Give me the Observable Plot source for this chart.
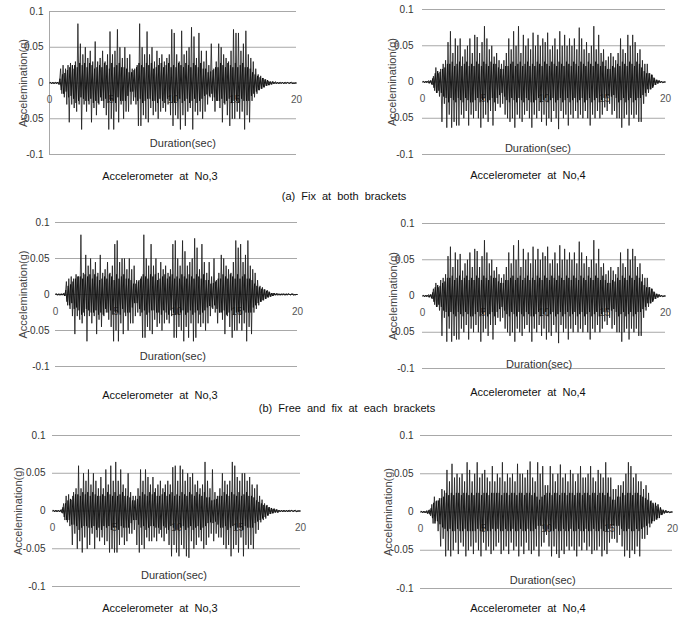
<!DOCTYPE html>
<html><head><meta charset="utf-8">
<script src="https://cdn.jsdelivr.net/npm/d3@7"></script>
<script src="https://cdn.jsdelivr.net/npm/@observablehq/plot@0.6"></script>
<style>
body{margin:0;background:#fff;}
#wrap{position:relative;width:683px;height:619px;overflow:hidden;background:#fff;font-family:"Liberation Sans",Arial,sans-serif;}
.panel{position:absolute;}
.cap{position:absolute;transform:translateX(-50%);font-size:11px;word-spacing:3px;color:#111;white-space:nowrap;line-height:14px;}
</style></head><body><div id="wrap"></div>
<script>
const dt = 0.1; // sampling step of the read-off series (sec)
const yTicks = [-0.1, -0.05, 0, 0.05, 0.1];
const xTicks = [0, 5, 10, 15, 20];
const yLabel = "Accelemination(g)";
const xLabel = "Duration(sec)";
const panelCaptions = ["Accelerometer  at  No,3", "Accelerometer  at  No,4", "Accelerometer  at  No,3", "Accelerometer  at  No,4", "Accelerometer  at  No,3", "Accelerometer  at  No,4"];
const groupCaptions = ["(a)  Fix  at  both  brackets", "(b)  Free  and  fix  at  each  brackets"];

// Peak (spike) readings, one every 0.1 s from 0 to 20 s
// (a) Fix at both brackets — No.3
const accA3 = [
 0,0.001,-0.001,0.001,-0.001,0.001,0,0.001,-0.002,0.02,
 -0.015,0.025,-0.02,0.02,-0.03,0.025,-0.055,0.028,-0.03,0.02,
 -0.035,0.03,-0.04,0.083,-0.03,0.055,-0.065,0.04,-0.03,0.05,
 -0.04,0.035,-0.03,0.045,-0.055,0.03,-0.035,0.058,-0.045,0.03,
 -0.03,0.035,-0.025,0.045,-0.035,0.03,-0.045,0.04,-0.065,0.072,
 -0.05,0.04,-0.065,0.045,-0.04,0.075,-0.055,0.05,-0.03,0.035,
 -0.05,0.05,-0.04,0.035,-0.04,0.04,-0.03,0.02,-0.025,0.02,
 -0.03,0.025,-0.06,0.083,-0.06,0.05,-0.045,0.04,-0.05,0.072,
 -0.055,0.04,-0.035,0.05,-0.045,0.03,-0.04,0.045,-0.05,0.035,
 -0.04,0.04,-0.035,0.03,-0.04,0.035,-0.03,0.04,-0.045,0.075,
 -0.06,0.07,-0.045,0.04,-0.05,0.03,-0.065,0.073,-0.045,0.04,
 -0.06,0.045,-0.04,0.05,-0.035,0.078,-0.065,0.065,-0.04,0.035,
 -0.045,0.07,-0.04,0.045,-0.05,0.03,-0.04,0.045,-0.03,0.025,
 -0.02,0.055,-0.025,0.02,-0.04,0.03,-0.025,0.055,-0.035,0.05,
 -0.055,0.04,-0.03,0.035,-0.045,0.03,-0.06,0.045,-0.05,0.075,
 -0.05,0.07,-0.04,0.07,-0.05,0.045,-0.04,0.055,-0.065,0.073,
 -0.045,0.04,-0.055,0.035,-0.025,0.03,-0.02,0.02,-0.015,0.012,
 -0.01,0.01,-0.008,0.007,-0.006,0.005,-0.004,0.003,-0.003,0.002,
 -0.002,0.002,-0.001,0.002,-0.001,0.001,-0.001,0.001,0,0.001,
 -0.001,0.001,0,0.001,-0.001,0,0.001,0,-0.001,0,
 0];

// (a) Fix at both brackets — No.4
const accA4 = [
 0,0.001,-0.001,0.001,0,0.002,-0.001,0.002,-0.004,0.008,
 -0.012,0.02,-0.015,0.012,-0.02,0.018,-0.055,0.025,-0.03,0.03,
 -0.063,0.055,-0.045,0.07,-0.063,0.04,-0.055,0.06,-0.06,0.05,
 -0.06,0.06,-0.045,0.035,-0.05,0.045,-0.04,0.05,-0.06,0.06,
 -0.045,0.04,-0.05,0.065,-0.04,0.062,-0.05,0.04,-0.063,0.055,
 -0.05,0.077,-0.045,0.06,-0.055,0.045,-0.04,0.05,-0.06,0.035,
 -0.04,0.04,-0.03,0.03,-0.035,0.025,-0.03,0.03,-0.045,0.04,
 -0.05,0.06,-0.055,0.045,-0.05,0.07,-0.063,0.05,-0.045,0.077,
 -0.05,0.04,-0.055,0.065,-0.045,0.05,-0.04,0.06,-0.05,0.045,
 -0.063,0.068,-0.045,0.05,-0.05,0.065,-0.04,0.05,-0.055,0.06,
 -0.045,0.055,-0.06,0.068,-0.05,0.045,-0.055,0.05,-0.04,0.06,
 -0.05,0.045,-0.065,0.07,-0.04,0.05,-0.05,0.065,-0.045,0.05,
 -0.06,0.06,-0.045,0.05,-0.05,0.06,-0.04,0.045,-0.05,0.075,
 -0.045,0.06,-0.05,0.045,-0.04,0.055,-0.05,0.04,-0.06,0.05,
 -0.045,0.077,-0.05,0.045,-0.04,0.065,-0.05,0.04,-0.045,0.045,
 -0.035,0.03,-0.04,0.035,-0.03,0.04,-0.045,0.035,-0.04,0.03,
 -0.05,0.04,-0.05,0.06,-0.063,0.045,-0.05,0.04,-0.045,0.065,
 -0.06,0.05,-0.045,0.065,-0.05,0.055,-0.045,0.04,-0.055,0.045,
 -0.055,0.03,-0.03,0.025,-0.02,0.025,-0.015,0.012,-0.01,0.01,
 -0.006,0.005,-0.004,0.003,-0.002,0.002,-0.001,0.001,-0.001,0,
 0];

// (b) Free and fix at each brackets — No.3
const accB3 = [
 0,0.001,-0.001,0.001,-0.001,0.001,0,0.002,-0.002,0.018,
 -0.015,0.022,-0.02,0.025,-0.03,0.022,-0.055,0.028,-0.03,0.025,
 -0.035,0.083,-0.04,0.03,-0.03,0.055,-0.065,0.04,-0.03,0.05,
 -0.04,0.035,-0.03,0.045,-0.055,0.03,-0.035,0.055,-0.045,0.03,
 -0.03,0.035,-0.025,0.045,-0.035,0.03,-0.045,0.04,-0.065,0.07,
 -0.05,0.075,-0.065,0.045,-0.04,0.05,-0.055,0.05,-0.03,0.035,
 -0.05,0.05,-0.04,0.035,-0.04,0.04,-0.03,0.02,-0.025,0.02,
 -0.03,0.025,-0.06,0.083,-0.06,0.05,-0.045,0.04,-0.05,0.07,
 -0.055,0.04,-0.035,0.05,-0.045,0.03,-0.04,0.045,-0.05,0.035,
 -0.04,0.04,-0.035,0.03,-0.04,0.035,-0.03,0.07,-0.06,0.075,
 -0.06,0.05,-0.045,0.04,-0.05,0.075,-0.065,0.06,-0.045,0.04,
 -0.06,0.045,-0.04,0.05,-0.065,0.078,-0.06,0.065,-0.04,0.035,
 -0.045,0.07,-0.04,0.045,-0.05,0.03,-0.04,0.045,-0.03,0.025,
 -0.02,0.05,-0.025,0.02,-0.04,0.03,-0.025,0.055,-0.035,0.05,
 -0.055,0.04,-0.03,0.035,-0.045,0.03,-0.06,0.045,-0.05,0.075,
 -0.05,0.065,-0.04,0.07,-0.05,0.045,-0.04,0.055,-0.065,0.075,
 -0.045,0.04,-0.055,0.035,-0.025,0.03,-0.02,0.02,-0.015,0.012,
 -0.01,0.01,-0.008,0.007,-0.006,0.006,-0.004,0.003,-0.003,0.002,
 -0.002,0.002,-0.001,0.002,-0.001,0.001,-0.001,0.001,0,0.001,
 -0.001,0.001,0,0.001,-0.001,0,0.001,0,-0.001,0,
 0];

// (b) Free and fix at each brackets — No.4
const accB4 = [
 0,0.001,-0.001,0.001,0,0.002,-0.001,0.002,-0.004,0.01,
 -0.012,0.018,-0.015,0.012,-0.02,0.022,-0.055,0.025,-0.03,0.03,
 -0.063,0.055,-0.045,0.068,-0.063,0.04,-0.055,0.06,-0.06,0.05,
 -0.06,0.058,-0.045,0.035,-0.05,0.045,-0.04,0.05,-0.06,0.06,
 -0.045,0.04,-0.05,0.065,-0.04,0.062,-0.05,0.04,-0.063,0.055,
 -0.05,0.077,-0.045,0.06,-0.055,0.045,-0.04,0.05,-0.06,0.035,
 -0.04,0.04,-0.03,0.03,-0.035,0.025,-0.03,0.03,-0.045,0.04,
 -0.05,0.06,-0.055,0.045,-0.05,0.07,-0.063,0.05,-0.045,0.077,
 -0.05,0.04,-0.055,0.065,-0.045,0.05,-0.04,0.06,-0.05,0.045,
 -0.063,0.068,-0.045,0.05,-0.05,0.065,-0.04,0.05,-0.055,0.06,
 -0.045,0.055,-0.06,0.068,-0.05,0.045,-0.055,0.05,-0.04,0.06,
 -0.05,0.045,-0.065,0.07,-0.04,0.05,-0.05,0.065,-0.045,0.05,
 -0.06,0.06,-0.045,0.05,-0.05,0.06,-0.04,0.045,-0.05,0.075,
 -0.045,0.06,-0.05,0.045,-0.04,0.055,-0.05,0.04,-0.06,0.05,
 -0.045,0.077,-0.05,0.045,-0.04,0.065,-0.05,0.04,-0.045,0.045,
 -0.035,0.03,-0.04,0.035,-0.03,0.04,-0.045,0.035,-0.04,0.03,
 -0.05,0.04,-0.05,0.06,-0.063,0.045,-0.05,0.04,-0.045,0.065,
 -0.06,0.05,-0.045,0.065,-0.05,0.055,-0.045,0.04,-0.055,0.045,
 -0.055,0.03,-0.03,0.025,-0.02,0.025,-0.015,0.012,-0.01,0.01,
 -0.006,0.005,-0.004,0.003,-0.002,0.002,-0.001,0.001,-0.001,0,
 0];

// (c) — No.3
const accC3 = [
 0,0.001,-0.001,0.001,-0.001,0.001,-0.001,0.002,-0.003,0.01,
 -0.012,0.02,-0.015,0.022,-0.02,0.015,-0.045,0.025,-0.03,0.03,
 -0.05,0.06,-0.04,0.03,-0.055,0.05,-0.035,0.04,-0.05,0.055,
 -0.045,0.035,-0.03,0.05,-0.05,0.04,-0.035,0.03,-0.04,0.045,
 -0.035,0.03,-0.045,0.055,-0.04,0.035,-0.055,0.06,-0.05,0.04,
 -0.055,0.065,-0.055,0.04,-0.045,0.055,-0.035,0.035,-0.045,0.03,
 -0.04,0.05,-0.03,0.025,-0.03,0.02,-0.025,0.02,-0.045,0.03,
 -0.055,0.055,-0.045,0.04,-0.05,0.055,-0.035,0.045,-0.04,0.035,
 -0.04,0.045,-0.035,0.03,-0.04,0.035,-0.03,0.04,-0.035,0.03,
 -0.04,0.035,-0.03,0.04,-0.045,0.035,-0.06,0.058,-0.045,0.06,
 -0.055,0.04,-0.06,0.06,-0.045,0.055,-0.05,0.04,-0.06,0.05,
 -0.062,0.045,-0.04,0.05,-0.05,0.035,-0.045,0.04,-0.035,0.03,
 -0.04,0.035,-0.05,0.065,-0.045,0.04,-0.035,0.03,-0.03,0.055,
 -0.04,0.025,-0.03,0.02,-0.035,0.03,-0.035,0.05,-0.045,0.04,
 -0.05,0.035,-0.045,0.04,-0.06,0.065,-0.05,0.06,-0.045,0.045,
 -0.055,0.04,-0.035,0.05,-0.06,0.05,-0.045,0.04,-0.05,0.045,
 -0.045,0.035,-0.05,0.03,-0.03,0.035,-0.025,0.02,-0.015,0.015,
 -0.012,0.01,-0.01,0.008,-0.006,0.005,-0.004,0.003,-0.003,0.003,
 -0.002,0.002,-0.002,0.001,-0.001,0.001,-0.001,0.001,-0.001,0.001,
 -0.001,0.001,0,0.001,-0.001,0,0.001,-0.001,0,0,
 0];

// (c) — No.4
const accC4 = [
 0,0.001,-0.001,0.001,-0.001,0.002,-0.002,0.003,-0.005,0.01,
 -0.015,0.02,-0.012,0.015,-0.025,0.018,-0.045,0.03,-0.035,0.028,
 -0.058,0.055,-0.05,0.04,-0.058,0.063,-0.05,0.045,-0.04,0.05,
 -0.055,0.045,-0.04,0.05,-0.045,0.04,-0.058,0.065,-0.05,0.055,
 -0.045,0.04,-0.055,0.05,-0.04,0.065,-0.05,0.045,-0.058,0.05,
 -0.04,0.055,-0.05,0.045,-0.045,0.04,-0.055,0.06,-0.05,0.04,
 -0.045,0.05,-0.04,0.045,-0.055,0.065,-0.05,0.04,-0.045,0.05,
 -0.055,0.045,-0.04,0.05,-0.05,0.04,-0.045,0.063,-0.058,0.05,
 -0.045,0.05,-0.055,0.045,-0.04,0.055,-0.05,0.066,-0.055,0.045,
 -0.05,0.04,-0.045,0.065,-0.058,0.05,-0.045,0.06,-0.04,0.035,
 -0.03,0.035,-0.045,0.06,-0.058,0.05,-0.045,0.04,-0.055,0.05,
 -0.06,0.062,-0.05,0.045,-0.055,0.05,-0.045,0.04,-0.05,0.055,
 -0.045,0.05,-0.05,0.04,-0.058,0.05,-0.045,0.06,-0.05,0.045,
 -0.04,0.045,-0.05,0.05,-0.045,0.06,-0.055,0.045,-0.05,0.04,
 -0.05,0.055,-0.045,0.05,-0.058,0.045,-0.05,0.065,-0.055,0.045,
 -0.04,0.045,-0.035,0.03,-0.035,0.03,-0.04,0.035,-0.03,0.035,
 -0.045,0.04,-0.058,0.05,-0.05,0.065,-0.06,0.06,-0.05,0.045,
 -0.055,0.05,-0.045,0.04,-0.058,0.04,-0.035,0.03,-0.035,0.035,
 -0.03,0.025,-0.02,0.015,-0.012,0.01,-0.01,0.008,-0.008,0.006,
 -0.004,0.003,-0.003,0.002,-0.001,0.002,-0.001,0.001,-0.001,0,
 0];

// Dense low-amplitude (black band) readings, one every 0.1 s starting at 0.05 s
const core3 = [
 0.001,-0.001,0.001,-0.001,0.001,-0.001,0.001,-0.002,0.006,-0.01,
 0.012,-0.015,0.014,-0.012,0.018,-0.02,0.022,-0.018,0.025,-0.022,
 0.025,-0.028,0.022,-0.025,0.028,-0.02,0.025,-0.022,0.028,-0.025,
 0.022,-0.025,0.028,-0.022,0.025,-0.028,0.02,-0.025,0.022,-0.028,
 0.025,-0.02,0.022,-0.025,0.028,-0.022,0.025,-0.028,0.02,-0.025,
 0.028,-0.025,0.022,-0.028,0.025,-0.02,0.028,-0.025,0.022,-0.025,
 0.022,-0.025,0.02,-0.018,0.015,-0.012,0.015,-0.012,0.018,-0.02,
 0.022,-0.025,0.028,-0.022,0.025,-0.028,0.022,-0.025,0.028,-0.022,
 0.025,-0.022,0.028,-0.025,0.02,-0.025,0.022,-0.028,0.025,-0.022,
 0.028,-0.025,0.022,-0.028,0.025,-0.022,0.028,-0.025,0.022,-0.028,
 0.025,-0.028,0.022,-0.025,0.028,-0.022,0.025,-0.028,0.022,-0.025,
 0.028,-0.022,0.025,-0.028,0.022,-0.025,0.028,-0.022,0.025,-0.028,
 0.022,-0.025,0.028,-0.022,0.02,-0.018,0.02,-0.016,0.015,-0.018,
 0.016,-0.015,0.018,-0.02,0.022,-0.025,0.022,-0.025,0.028,-0.022,
 0.025,-0.028,0.022,-0.025,0.028,-0.022,0.025,-0.028,0.022,-0.025,
 0.028,-0.025,0.022,-0.028,0.025,-0.022,0.028,-0.025,0.022,-0.025,
 0.022,-0.025,0.02,-0.018,0.015,-0.015,0.012,-0.012,0.01,-0.01,
 0.008,-0.008,0.007,-0.006,0.005,-0.004,0.004,-0.003,0.002,-0.002,
 0.002,-0.001,0.001,-0.001,0.001,-0.001,0.001,-0.001,0.001,-0.001,
 0.001,-0.001,0.001,0,0,0.001,-0.001,0,0,0];

const core4 = [
 0.001,-0.001,0.001,-0.001,0.001,-0.002,0.002,-0.003,0.005,-0.008,
 0.012,-0.015,0.015,-0.012,0.014,-0.015,0.018,-0.02,0.02,-0.022,
 0.025,-0.028,0.025,-0.022,0.028,-0.025,0.022,-0.028,0.025,-0.022,
 0.028,-0.025,0.022,-0.028,0.025,-0.022,0.028,-0.025,0.022,-0.028,
 0.025,-0.028,0.022,-0.025,0.028,-0.022,0.025,-0.028,0.022,-0.025,
 0.028,-0.022,0.025,-0.028,0.022,-0.025,0.028,-0.022,0.025,-0.028,
 0.025,-0.022,0.02,-0.018,0.018,-0.015,0.018,-0.02,0.022,-0.025,
 0.022,-0.028,0.025,-0.022,0.028,-0.025,0.022,-0.028,0.025,-0.022,
 0.028,-0.025,0.022,-0.028,0.025,-0.022,0.028,-0.025,0.022,-0.028,
 0.025,-0.028,0.022,-0.025,0.028,-0.022,0.025,-0.028,0.022,-0.025,
 0.028,-0.022,0.025,-0.028,0.022,-0.025,0.028,-0.022,0.025,-0.028,
 0.022,-0.025,0.028,-0.022,0.025,-0.028,0.022,-0.025,0.028,-0.022,
 0.025,-0.028,0.022,-0.025,0.028,-0.022,0.025,-0.028,0.022,-0.025,
 0.028,-0.022,0.025,-0.028,0.022,-0.025,0.028,-0.022,0.025,-0.028,
 0.022,-0.025,0.028,-0.022,0.025,-0.028,0.022,-0.025,0.028,-0.022,
 0.022,-0.02,0.018,-0.02,0.018,-0.02,0.022,-0.018,0.02,-0.022,
 0.025,-0.028,0.022,-0.025,0.028,-0.022,0.025,-0.028,0.022,-0.025,
 0.028,-0.022,0.025,-0.028,0.022,-0.025,0.028,-0.022,0.025,-0.022,
 0.02,-0.018,0.015,-0.015,0.012,-0.01,0.012,-0.01,0.01,-0.008,
 0.006,-0.004,0.003,-0.002,0.002,-0.001,0.001,-0.001,0,0];

const coreC3 = [
 0.001,-0.001,0.001,-0.001,0.001,-0.001,0.001,-0.002,0.005,-0.008,
 0.01,-0.012,0.014,-0.012,0.016,-0.018,0.02,-0.018,0.022,-0.02,
 0.022,-0.025,0.02,-0.022,0.025,-0.02,0.022,-0.02,0.025,-0.022,
 0.02,-0.022,0.025,-0.02,0.022,-0.025,0.02,-0.022,0.02,-0.025,
 0.022,-0.02,0.02,-0.022,0.025,-0.02,0.022,-0.025,0.02,-0.022,
 0.025,-0.022,0.02,-0.025,0.022,-0.02,0.025,-0.022,0.02,-0.022,
 0.02,-0.022,0.018,-0.016,0.014,-0.012,0.014,-0.012,0.016,-0.018,
 0.02,-0.022,0.025,-0.02,0.022,-0.025,0.02,-0.022,0.025,-0.02,
 0.022,-0.02,0.025,-0.022,0.02,-0.022,0.02,-0.025,0.022,-0.02,
 0.025,-0.022,0.02,-0.025,0.022,-0.02,0.025,-0.022,0.02,-0.025,
 0.022,-0.025,0.02,-0.022,0.025,-0.02,0.022,-0.025,0.02,-0.022,
 0.025,-0.02,0.022,-0.025,0.02,-0.022,0.025,-0.02,0.022,-0.025,
 0.02,-0.022,0.025,-0.02,0.018,-0.016,0.018,-0.015,0.014,-0.016,
 0.015,-0.014,0.016,-0.018,0.02,-0.022,0.02,-0.022,0.025,-0.02,
 0.022,-0.025,0.02,-0.022,0.025,-0.02,0.022,-0.025,0.02,-0.022,
 0.025,-0.022,0.02,-0.025,0.022,-0.02,0.025,-0.022,0.02,-0.022,
 0.02,-0.022,0.018,-0.016,0.014,-0.014,0.012,-0.012,0.01,-0.01,
 0.008,-0.008,0.007,-0.006,0.005,-0.004,0.004,-0.003,0.003,-0.002,
 0.002,-0.002,0.001,-0.001,0.001,-0.001,0.001,-0.001,0.001,-0.001,
 0.001,-0.001,0.001,0,0,0.001,-0.001,0,0,0];

const coreC4 = [
 0.001,-0.001,0.001,-0.001,0.001,-0.002,0.002,-0.003,0.005,-0.008,
 0.012,-0.015,0.014,-0.012,0.015,-0.016,0.018,-0.02,0.02,-0.022,
 0.025,-0.025,0.022,-0.022,0.025,-0.025,0.022,-0.025,0.025,-0.022,
 0.025,-0.025,0.022,-0.025,0.025,-0.022,0.025,-0.025,0.022,-0.025,
 0.025,-0.025,0.022,-0.025,0.025,-0.022,0.025,-0.025,0.022,-0.025,
 0.025,-0.022,0.025,-0.025,0.022,-0.025,0.025,-0.022,0.025,-0.025,
 0.025,-0.022,0.025,-0.025,0.022,-0.025,0.025,-0.022,0.025,-0.025,
 0.022,-0.025,0.025,-0.022,0.025,-0.025,0.022,-0.025,0.025,-0.022,
 0.025,-0.025,0.022,-0.025,0.025,-0.022,0.025,-0.025,0.022,-0.025,
 0.025,-0.022,0.02,-0.018,0.016,-0.018,0.02,-0.022,0.022,-0.025,
 0.025,-0.022,0.025,-0.025,0.022,-0.025,0.025,-0.022,0.025,-0.025,
 0.022,-0.025,0.025,-0.022,0.025,-0.025,0.022,-0.025,0.025,-0.022,
 0.025,-0.025,0.022,-0.025,0.025,-0.022,0.025,-0.025,0.022,-0.025,
 0.025,-0.022,0.025,-0.025,0.022,-0.025,0.025,-0.022,0.025,-0.025,
 0.022,-0.025,0.025,-0.022,0.025,-0.025,0.022,-0.025,0.025,-0.022,
 0.02,-0.018,0.016,-0.018,0.016,-0.018,0.02,-0.018,0.02,-0.022,
 0.025,-0.025,0.022,-0.025,0.025,-0.022,0.025,-0.025,0.022,-0.025,
 0.025,-0.022,0.025,-0.025,0.022,-0.022,0.02,-0.02,0.018,-0.018,
 0.016,-0.015,0.014,-0.015,0.012,-0.012,0.012,-0.01,0.01,-0.008,
 0.006,-0.004,0.003,-0.002,0.002,-0.001,0.001,-0.001,0,0];

const seriesList = [accA3, accA4, accB3, accB4, accC3, accC4];
const coreList = [core3, core4, core3, core4, coreC3, coreC4];

// layout of each panel (pixels) — not data
const panels = [
 {left:0,   top:0,   width:340, height:165, mL:49, mR:44, mT:11, mB:11, pad:6, ylab:26, durX:10.8, durY:-0.085, vline:true},
 {left:340, top:0,   width:343, height:165, mL:82, mR:18, mT:9,  mB:11, pad:9, ylab:30, durX:9.5,  durY:-0.092, vline:false},
 {left:0,   top:210, width:340, height:170, mL:55, mR:43, mT:12, mB:14, pad:6, ylab:32, durX:9.7,  durY:-0.086, vline:false},
 {left:340, top:210, width:343, height:170, mL:82, mR:18, mT:13, mB:12, pad:8, ylab:29, durX:9.6,  durY:-0.095, vline:false},
 {left:0,   top:420, width:340, height:175, mL:52, mR:40, mT:15, mB:9,  pad:7, ylab:34, durX:9.8,  durY:-0.085, vline:false},
 {left:340, top:420, width:343, height:175, mL:80, mR:11, mT:15, mB:7,  pad:7, ylab:32, durX:9.7,  durY:-0.09,  vline:false}
];
const capPos = [[160,169],[528,168],[160,388],[528,385],[160,601],[528,601]];
const groupPos = [[344,189],[347,401]];
const narrow = "'Liberation Sans Narrow', 'Liberation Sans', Arial, sans-serif";

const wrap = document.getElementById("wrap");
panels.forEach((p, k) => {
  const spikes = seriesList[k].map((v, i) => ({t: i * dt, a: v}));
  const core = coreList[k].map((v, i) => ({t: i * dt + dt / 2, a: v}));
  const chart = Plot.plot({
    width: p.width, height: p.height,
    marginLeft: p.mL, marginRight: p.mR, marginTop: p.mT, marginBottom: p.mB,
    x: {domain: [0, 20], axis: null},
    y: {domain: [-0.1, 0.1], axis: null},
    style: {background: "transparent", overflow: "visible"},
    marks: [
      Plot.ruleY(yTicks, {stroke: "#a8a8a8", strokeWidth: 1}),
      p.vline ? Plot.ruleX([0], {stroke: "#a8a8a8", strokeWidth: 1}) : null,
      Plot.axisY(yTicks, {label: null, tickSize: 0, tickPadding: p.pad, tickFormat: d => String(d), fontSize: 10, fill: "#333", fontFamily: narrow}),
      Plot.text(xTicks, {x: d => d, y: () => 0, dy: 17, text: d => String(d), fill: "#555", fontSize: 10, fontFamily: narrow}),
      Plot.line(core, {x: "t", y: "a", stroke: "#000", strokeWidth: 0.9}),
      Plot.line(spikes, {x: "t", y: "a", stroke: "#1a1a1a", strokeWidth: 0.8}),
      Plot.text([xLabel], {x: () => p.durX, y: () => p.durY, text: d => d, fill: "#333", fontSize: 11, fontFamily: narrow}),
      Plot.text([yLabel], {frameAnchor: "left", dx: -p.ylab, rotate: -90, textAnchor: "middle", text: d => d, fill: "#444", fontSize: 11, fontFamily: "'Liberation Sans', Arial, sans-serif"})
    ]
  });
  chart.classList.add("panel");
  chart.style.left = p.left + "px";
  chart.style.top = p.top + "px";
  wrap.appendChild(chart);

  const cap = document.createElement("div");
  cap.className = "cap";
  cap.textContent = panelCaptions[k];
  cap.style.left = capPos[k][0] + "px";
  cap.style.top = capPos[k][1] + "px";
  wrap.appendChild(cap);
});
groupCaptions.forEach((g, k) => {
  const d = document.createElement("div");
  d.className = "cap";
  d.textContent = g;
  d.style.left = groupPos[k][0] + "px";
  d.style.top = groupPos[k][1] + "px";
  wrap.appendChild(d);
});
</script></body></html>
